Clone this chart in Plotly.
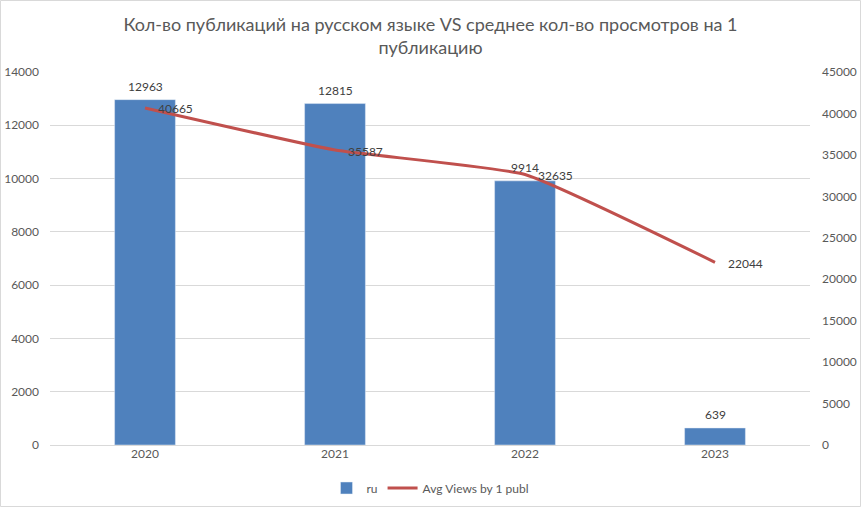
import plotly.graph_objects as go

years = ["2020", "2021", "2022", "2023"]
ru_counts = [12963, 12815, 9914, 639]
avg_views = [40665, 35587, 32635, 22044]

FONT = "Lato, 'Liberation Sans', sans-serif"
TXT = "#595959"
LBL = "#404040"
W, H = 861, 507

fig = go.Figure()
fig.add_trace(go.Bar(
    x=years, y=ru_counts, name="ru",
    marker=dict(color="#4F81BD"),
    yaxis="y",
))
fig.add_trace(go.Scatter(
    x=years, y=avg_views, name="Avg Views by 1 publ",
    mode="lines", line=dict(color="#C0504D", width=3, shape="spline", smoothing=0.4),
    cliponaxis=False, yaxis="y2",
))

annotations = []
for i, v in enumerate(ru_counts):
    annotations.append(dict(x=i, y=v, xref="x", yref="y", text=str(v), showarrow=False,
                            xanchor="center", yanchor="middle", yshift=13,
                            font=dict(color=LBL, size=12, family=FONT)))
for i, v in enumerate(avg_views):
    annotations.append(dict(x=i, y=v, xref="x", yref="y2", text=str(v), showarrow=False,
                            xanchor="left", yanchor="middle", xshift=11, yshift=-1,
                            font=dict(color=LBL, size=12, family=FONT)))

fig.update_layout(
    width=W, height=H,
    margin=dict(l=0, r=0, t=0, b=0),
    paper_bgcolor="white", plot_bgcolor="white",
    font=dict(family=FONT, color=TXT, size=12),
    title=dict(
        text="Кол-во публикаций на русском языке VS среднее кол-во просмотров на 1<br>публикацию",
        x=0.5, xanchor="center", y=1 - 31 / H, yanchor="top",
        font=dict(size=18, color=TXT, family=FONT),
    ),
    bargap=0.68,
    annotations=annotations,
    xaxis=dict(type="category", range=[-0.5, len(years) - 0.5], domain=[50 / W, 810 / W],
               showgrid=False, showline=False, ticks="", automargin=False,
               tickfont=dict(size=12, color=TXT)),
    yaxis=dict(domain=[62 / H, 1 - 72 / H], range=[0, 14000], dtick=2000, showgrid=True,
               gridcolor="#D9D9D9", zeroline=True, zerolinecolor="#D9D9D9", zerolinewidth=1,
               showline=False, ticks="", tickformat="d", ticklabelstandoff=10,
               automargin=False, tickfont=dict(size=12, color=TXT)),
    yaxis2=dict(range=[0, 45000], dtick=5000, overlaying="y", side="right",
                anchor="x", showgrid=False, zeroline=False, showline=False, ticks="",
                tickformat="d", ticklabelstandoff=11, automargin=False,
                tickfont=dict(size=12, color=TXT)),
    legend=dict(orientation="h", x=0.5, xanchor="center", y=19 / H, yanchor="middle",
                font=dict(size=12, color=TXT), traceorder="normal"),
    showlegend=True,
)

fig.add_shape(type="rect", xref="paper", yref="paper",
              x0=0.5 / W, x1=1 - 0.5 / W, y0=0.5 / H, y1=1 - 0.5 / H,
              line=dict(color="#D9D9D9", width=1), fillcolor="rgba(0,0,0,0)", layer="below")

fig.write_html("out.html")
